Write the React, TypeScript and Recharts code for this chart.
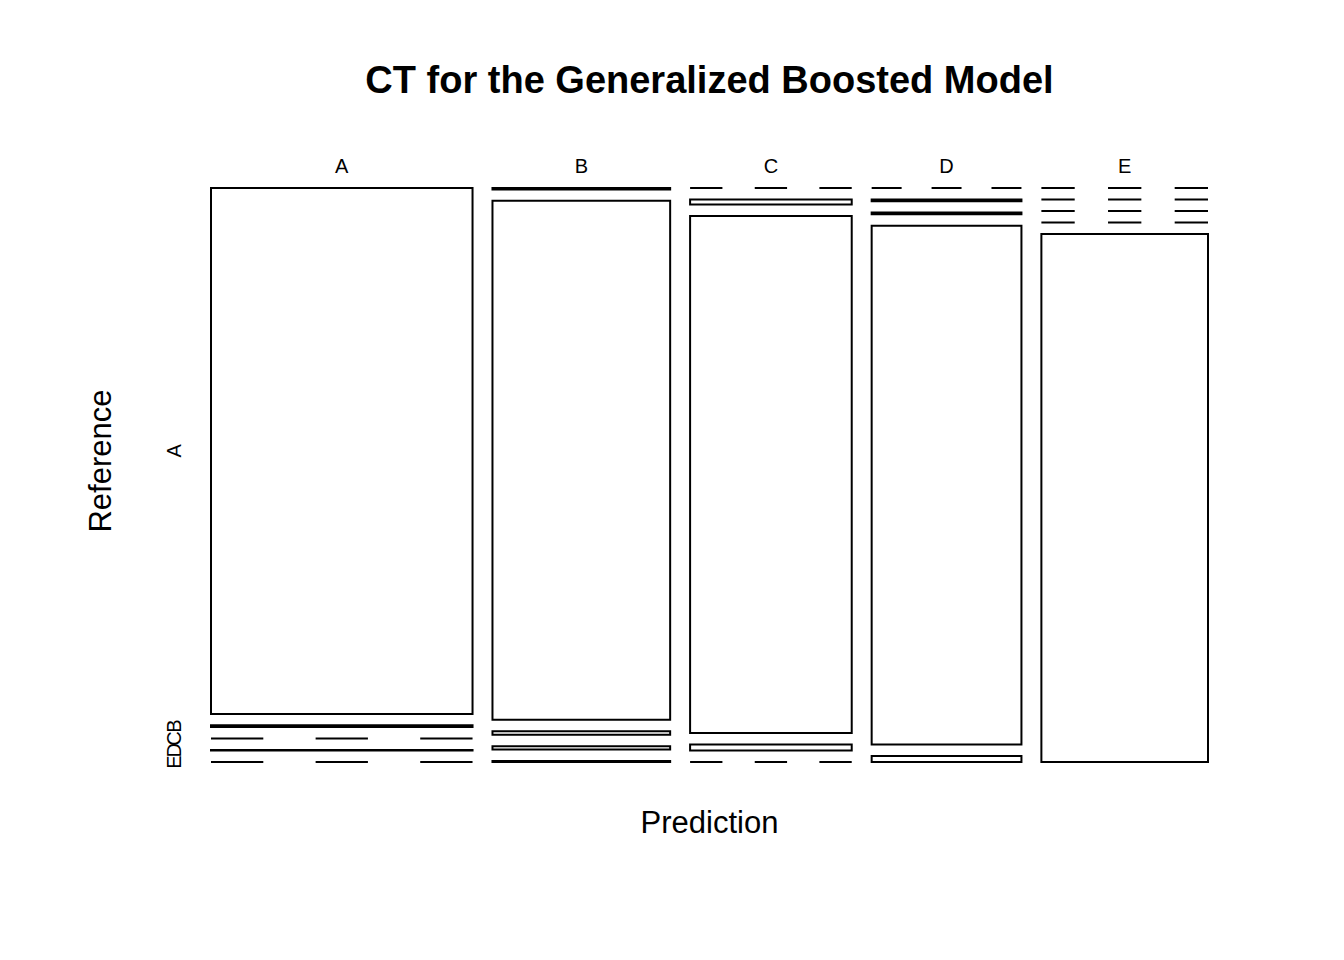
import { ComposedChart, XAxis, YAxis, ReferenceArea, ReferenceLine, Scatter } from "recharts";

const FONT = "'Liberation Sans', Arial, Helvetica, sans-serif";

// confusion matrix: one array per predicted class, values = reference A..E
const predictions = ["A", "B", "C", "D", "E"];
const references = ["A", "B", "C", "D", "E"];
const predA = [1671, 5, 0, 2, 0];
const predB = [3, 1120, 8, 7, 2];
const predC = [0, 10, 1015, 12, 0];
const predD = [0, 3, 3, 944, 11];
const predE = [0, 0, 0, 0, 1069];

const columns = [predA, predB, predC, predD, predE];

// plot region (px) and mosaic spacing
const PLOT_W = 997;
const PLOT_H = 574;
const GAP_X = PLOT_W * 0.02;
const GAP_Y = PLOT_H * 0.02;

type Cell = { x1: number; x2: number; y1: number; y2: number; count: number };

function buildMosaic() {
  const colTotals = columns.map((c) => c.reduce((s, v) => s + v, 0));
  const grand = colTotals.reduce((s, v) => s + v, 0);
  const availX = PLOT_W - GAP_X * (columns.length - 1);
  const availY = PLOT_H - GAP_Y * (references.length - 1);
  const cells: Cell[] = [];
  const colCenters: number[] = [];
  const rowCentersFirst: number[] = [];
  let x = 0;
  columns.forEach((col, ci) => {
    const w = (colTotals[ci] / grand) * availX;
    let y = 0;
    col.forEach((v) => {
      const h = (v / colTotals[ci]) * availY;
      cells.push({ x1: x, x2: x + w, y1: y, y2: y + h, count: v });
      if (ci === 0) rowCentersFirst.push(y + h / 2);
      y += h + GAP_Y;
    });
    colCenters.push(x + w / 2);
    x += w + GAP_X;
  });
  return { cells, colCenters, rowCentersFirst };
}

export default function App() {
  const { cells, colCenters, rowCentersFirst } = buildMosaic();

  return (
    <div style={{ position: "absolute", left: 0, top: 0, width: 1344, height: 960, background: "#fff", fontFamily: FONT }}>
      <ComposedChart width={1344} height={960} data={cells} margin={{ top: 148, left: 151, right: 136, bottom: 198 }}>
        <XAxis
          type="number"
          dataKey="x1"
          orientation="top"
          domain={[0, PLOT_W]}
          allowDataOverflow
          ticks={colCenters}
          interval={0}
          height={40}
          axisLine={false}
          tickLine={false}
          tickSize={0}
          tickMargin={0}
          tick={(p: any) => (
            <text x={p.x} y={p.y - 22} textAnchor="middle" dominantBaseline="central" fontSize={20} fontFamily={FONT} fill="#000">
              {predictions[p.index]}
            </text>
          )}
        />
        <YAxis
          type="number"
          dataKey="y1"
          reversed
          domain={[0, PLOT_H]}
          allowDataOverflow
          ticks={rowCentersFirst}
          interval={0}
          width={60}
          axisLine={false}
          tickLine={false}
          tickSize={0}
          tickMargin={0}
          tick={(p: any) => (
            <text
              x={p.x - 37}
              y={p.y}
              transform={`rotate(-90 ${p.x - 37} ${p.y})`}
              textAnchor="middle"
              dominantBaseline="central"
              fontSize={20}
              fontFamily={FONT}
              fill="#000"
            >
              {references[p.index]}
            </text>
          )}
        />
        <Scatter dataKey="y1" shape={() => <g />} isAnimationActive={false} />
        {cells.map((c, i) =>
          c.count > 0 ? (
            <ReferenceArea
              key={i}
              x1={c.x1}
              x2={c.x2}
              y1={c.y1}
              y2={c.y2}
              fill="#fff"
              fillOpacity={1}
              stroke="#000"
              strokeWidth={2}
              ifOverflow="visible"
            />
          ) : (
            <ReferenceLine
              key={i}
              segment={[{ x: c.x1, y: c.y1 }, { x: c.x2, y: c.y1 }]}
              stroke="#000"
              strokeWidth={2}
              strokeDasharray={`${(c.x2 - c.x1) / 5} ${(c.x2 - c.x1) / 5}`}
              ifOverflow="visible"
            />
          )
        )}
      </ComposedChart>
      <svg width={1344} height={960} style={{ position: "absolute", left: 0, top: 0, pointerEvents: "none" }}>
        <text x={709.5} y={80} textAnchor="middle" dominantBaseline="central" fontSize={38} fontWeight="bold" fontFamily={FONT} fill="#000">
          CT for the Generalized Boosted Model
        </text>
        <text x={709.5} y={822} textAnchor="middle" dominantBaseline="central" fontSize={31} fontFamily={FONT} fill="#000">
          Prediction
        </text>
        <text
          x={100}
          y={461}
          transform="rotate(-90 100 461)"
          textAnchor="middle"
          dominantBaseline="central"
          fontSize={31}
          fontFamily={FONT}
          fill="#000"
        >
          Reference
        </text>
      </svg>
    </div>
  );
}
